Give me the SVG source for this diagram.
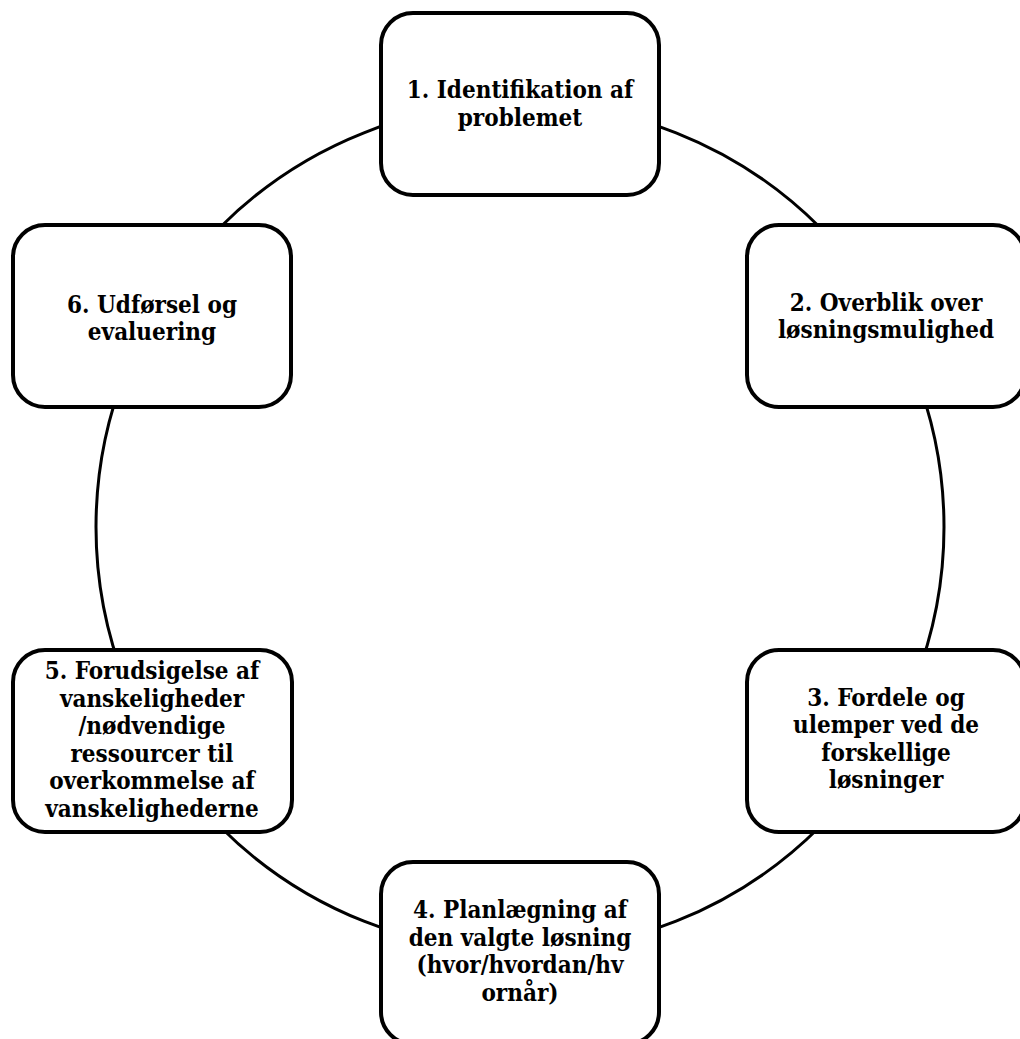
<svg xmlns="http://www.w3.org/2000/svg" width="1020" height="1039" viewBox="0 0 1020 1039">
  <style>
    .ring { fill: none; stroke: #000; stroke-width: 3; }
    .box { fill: #fff; stroke: #000; stroke-width: 4; }
    .lbl { font-family: "DejaVu Serif Condensed", "DejaVu Serif", serif; font-stretch: condensed; font-weight: bold; font-size: 24px; fill: #000; text-anchor: middle; }
  </style>
  <rect width="1020" height="1039" fill="#fff"/>

  <!-- cycle ring linking the six steps -->
  <g id="connectors">
    <circle class="ring" cx="520" cy="527" r="424"/>
  </g>

  <g id="step1">
    <rect class="box" x="381" y="13" width="278" height="182" rx="32"/>
    <text class="lbl" x="520" y="98">1. Identifikation af</text>
    <text class="lbl" x="520" y="126">problemet</text>
  </g>

  <g id="step2">
    <rect class="box" x="747" y="225" width="278" height="182" rx="32"/>
    <text class="lbl" x="886" y="311">2. Overblik over</text>
    <text class="lbl" x="886" y="338">løsningsmulighed</text>
  </g>

  <g id="step3">
    <rect class="box" x="747" y="650" width="278" height="182" rx="32"/>
    <text class="lbl" x="886" y="706">3. Fordele og</text>
    <text class="lbl" x="886" y="733">ulemper ved de</text>
    <text class="lbl" x="886" y="761">forskellige</text>
    <text class="lbl" x="886" y="788">løsninger</text>
  </g>

  <g id="step4">
    <rect class="box" x="381" y="862" width="278" height="182" rx="32"/>
    <text class="lbl" x="520" y="918">4. Planlægning af</text>
    <text class="lbl" x="520" y="946">den valgte løsning</text>
    <text class="lbl" x="520" y="973">(hvor/hvordan/hv</text>
    <text class="lbl" x="520" y="1001">ornår)</text>
  </g>

  <g id="step5">
    <rect class="box" x="13" y="650" width="279" height="182" rx="32"/>
    <text class="lbl" x="152" y="679">5. Forudsigelse af</text>
    <text class="lbl" x="152" y="707">vanskeligheder</text>
    <text class="lbl" x="152" y="734">/nødvendige</text>
    <text class="lbl" x="152" y="762">ressourcer til</text>
    <text class="lbl" x="152" y="789">overkommelse af</text>
    <text class="lbl" x="152" y="817">vanskelighederne</text>
  </g>

  <g id="step6">
    <rect class="box" x="13" y="225" width="278" height="182" rx="32"/>
    <text class="lbl" x="152" y="313">6. Udførsel og</text>
    <text class="lbl" x="152" y="340">evaluering</text>
  </g>
</svg>
